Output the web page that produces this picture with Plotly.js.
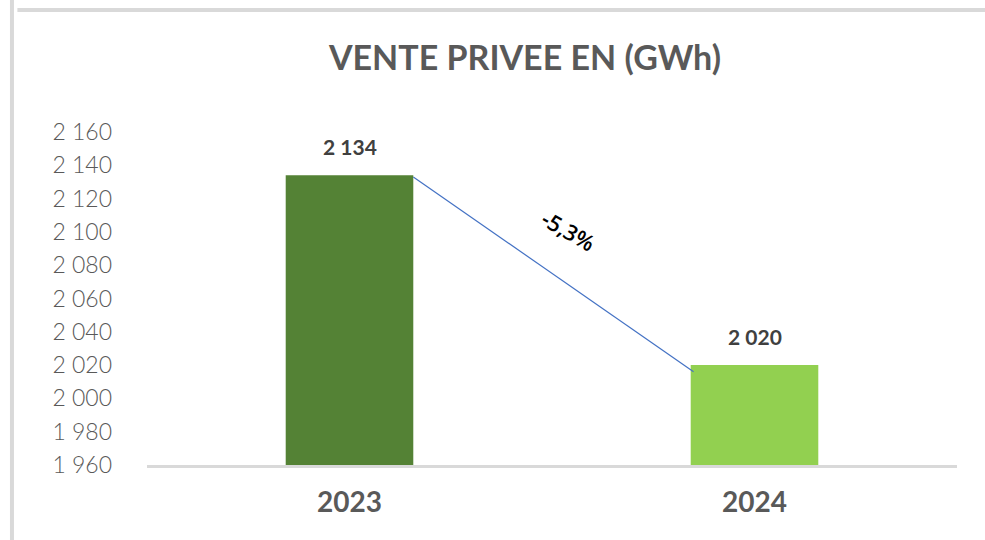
<!DOCTYPE html>
<html>
<head>
<meta charset="utf-8">
<script src="https://cdn.plot.ly/plotly-3.0.1.min.js"></script>
<style>html,body{margin:0;padding:0;background:#fff;}#chart{width:985px;height:540px;}</style>
</head>
<body>
<div id="chart"></div>
<script>
// Data
const years = ["2023", "2024"];
const values = [2134, 2020];
const barColors = ["#548235", "#92D050"];
const changeLabel = "-5,3%";
const trendY = [2133, 2016];
const yTicks = [1960, 1980, 2000, 2020, 2040, 2060, 2080, 2100, 2120, 2140, 2160];

const xIdx = years.map((_, i) => i);
const barWidth = 0.315;
const fmt = v => String(v).replace(/\B(?=(\d{3})+(?!\d))/g, " ");

const bars = {
  type: "bar",
  x: xIdx,
  y: values,
  width: barWidth,
  marker: {color: barColors},
  hoverinfo: "skip"
};

const trend = {
  type: "scatter",
  mode: "lines",
  x: [xIdx[0] + barWidth / 2, xIdx[1] - barWidth / 2 + 0.007],
  y: trendY,
  line: {color: "#4472C4", width: 1.2},
  hoverinfo: "skip"
};

const annotations = values.map((v, i) => ({
  x: xIdx[i], y: v, xref: "x", yref: "y",
  text: fmt(v), showarrow: false, yshift: 29,
  font: {family: "Lato, 'DejaVu Sans', sans-serif", size: 21, color: "#404040", weight: 700}
}));
annotations.push({
  x: (xIdx[0] + xIdx[1]) / 2 + 0.04, y: (values[0] + values[1]) / 2 + 24,
  xref: "x", yref: "y", text: changeLabel, showarrow: false, textangle: 30,
  font: {family: "'Open Sans', 'Liberation Sans', sans-serif", size: 22, color: "#000000", weight: 600}
});

// frame lines (top and left border of the original picture)
const shapes = [
  {type: "line", xref: "paper", yref: "paper", x0: -0.16, x1: 1.04, y0: 1.366, y1: 1.366,
   line: {color: "#d9d9d9", width: 4}},
  {type: "line", xref: "paper", yref: "paper", x0: -0.1667, x1: -0.1667, y0: -0.23, y1: 1.4,
   line: {color: "#d9d9d9", width: 4}}
];

const layout = {
  width: 985, height: 540,
  margin: {l: 147, r: 28, t: 132, b: 75},
  paper_bgcolor: "#ffffff", plot_bgcolor: "#ffffff",
  separators: ", ",
  showlegend: false,
  title: {
    text: "VENTE PRIVEE EN (GWh)",
    x: 0.533, xref: "container", xanchor: "center",
    y: 0.893, yref: "container", yanchor: "middle",
    font: {family: "Lato, 'DejaVu Sans', sans-serif", size: 34, color: "#595959", weight: 700}
  },
  xaxis: {
    range: [-0.5, 1.5],
    tickmode: "array", tickvals: xIdx, ticktext: years,
    showgrid: false, zeroline: false,
    showline: true, linecolor: "#d9d9d9", linewidth: 3,
    ticks: "", ticklabelstandoff: 10,
    tickfont: {family: "Lato, 'DejaVu Sans', sans-serif", size: 28, color: "#595959", weight: 700},
    fixedrange: true
  },
  yaxis: {
    range: [1960, 2160],
    tickmode: "array", tickvals: yTicks,
    tickformat: ",d",
    showgrid: false, zeroline: false, showline: false,
    ticks: "", ticklabelstandoff: 34,
    tickfont: {family: "Lato, 'DejaVu Sans', sans-serif", size: 23, color: "#595959", weight: 300},
    fixedrange: true
  },
  shapes: shapes,
  annotations: annotations
};

Plotly.newPlot("chart", [bars, trend], layout, {staticPlot: true, displayModeBar: false});
</script>
</body>
</html>
